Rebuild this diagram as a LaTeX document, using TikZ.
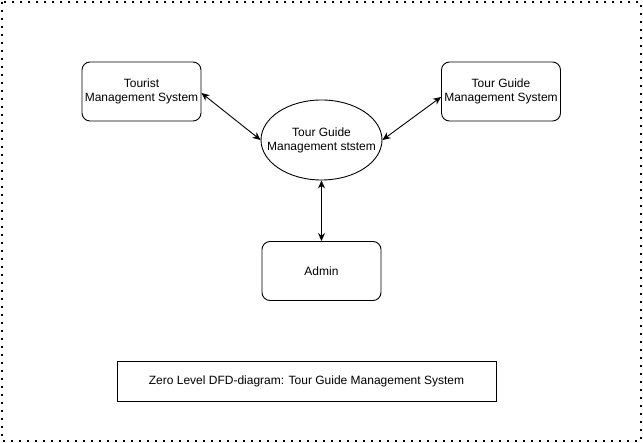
\documentclass[tikz,border=0pt]{standalone}
\usepackage{fontspec}
\setmainfont{Liberation Sans}
\usetikzlibrary{shapes.geometric,arrows.meta}
\begin{document}
\begin{tikzpicture}[x=1pt,y=-1pt,
  txt/.style={align=center,font=\fontsize{12}{14}\selectfont},
  ent/.style={draw,line width=0.9pt,rounded corners=8pt,minimum width=119pt,minimum height=59pt,txt,inner sep=0pt},
  proc/.style={draw,line width=0.9pt,ellipse,minimum width=121pt,minimum height=80pt,inner sep=0pt},
  capbox/.style={draw,line width=0.9pt,minimum width=379pt,minimum height=40pt,txt,inner sep=0pt},
  flow/.style={line width=0.9pt,{Stealth[length=8pt,width=7pt]}-{Stealth[length=8pt,width=7pt]}},
  frame/.style={line width=1.6pt,dash pattern=on 1.6pt off 6.4pt}]
\useasboundingbox (0,0) rectangle (643,443);
\draw[frame] (2,2) rectangle (641,441);
\node[ent] (tourist) at (141.5,91.5) {Tourist\\Management System};
\node[ent] (guide) at (501,91.5) {Tour Guide\\Management System};
\node[proc,label={[txt,inner sep=0pt]center:Tour Guide\\Management ststem}] (sys) at (321.5,140) {};
\node[ent] (admin) at (321.5,271) {Admin};
\node[capbox] (caption) at (306.5,381) {Zero Level DFD-diagram: Tour Guide Management System};
\draw[flow] ([yshift=-1.5pt]tourist.east) -- (sys.west);
\draw[flow] ([yshift=-5.5pt]guide.west) -- (sys.east);
\draw[flow] (sys.south) -- (admin.north);
\end{tikzpicture}
\end{document}
